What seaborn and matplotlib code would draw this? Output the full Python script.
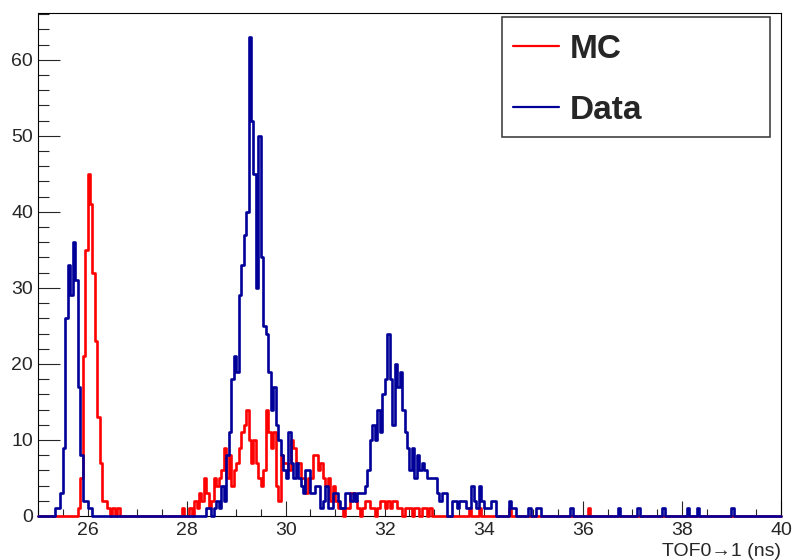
import matplotlib
matplotlib.use("Agg")
import matplotlib.pyplot as plt
from matplotlib.lines import Line2D
from matplotlib.patches import Rectangle
from matplotlib.ticker import MultipleLocator
import numpy as np
import pandas as pd
import seaborn as sns

# Histogram binning: 300 bins of 0.05 ns between 25 and 40 ns
bin_lo = 25.0
bin_hi = 40.0
n_bins = 300

# Counts per bin, one row of 20 bins per nanosecond
mc_counts = [
    0, 0, 0, 0, 0, 0, 0, 0, 0, 0, 0, 0, 0, 0, 0, 0, 1, 5, 21, 35,            # 25
    45, 41, 32, 23, 13, 7, 2, 2, 1, 0, 1, 0, 1, 0, 0, 0, 0, 0, 0, 0,         # 26
    0, 0, 0, 0, 0, 0, 0, 0, 0, 0, 0, 0, 0, 0, 0, 0, 0, 0, 1, 0,              # 27
    0, 1, 0, 2, 1, 3, 2, 5, 3, 1, 2, 5, 4, 5, 6, 9, 5, 8, 4, 6,              # 28
    7, 9, 11, 12, 14, 10, 7, 10, 7, 5, 4, 6, 14, 11, 9, 11, 4, 2, 8, 7,      # 29
    7, 6, 10, 9, 7, 7, 5, 5, 3, 5, 5, 8, 8, 6, 7, 5, 4, 5, 2, 4,             # 30
    2, 1, 1, 0, 1, 1, 3, 3, 2, 1, 0, 1, 2, 2, 1, 1, 0, 1, 2, 2,              # 31
    1, 2, 1, 2, 2, 1, 1, 0, 1, 1, 1, 0, 1, 1, 0, 1, 1, 0, 1, 0,              # 32
    0, 0, 0, 0, 0, 0, 0, 0, 0, 0, 0, 0, 0, 0, 1, 0, 0, 0, 1, 0,              # 33
    0, 0, 0, 0, 0, 0, 0, 0, 0, 0, 1, 0, 0, 0, 0, 0, 0, 0, 0, 0,              # 34
    0, 0, 0, 0, 0, 0, 0, 0, 0, 0, 0, 0, 0, 0, 0, 0, 0, 0, 0, 0,              # 35
    0, 0, 1, 0, 0, 0, 0, 0, 0, 0, 0, 0, 0, 0, 0, 0, 0, 0, 0, 0,              # 36
    0, 0, 0, 0, 0, 0, 0, 0, 0, 0, 0, 0, 0, 0, 0, 0, 0, 0, 0, 0,              # 37
    0, 0, 0, 0, 0, 0, 0, 0, 0, 0, 0, 0, 0, 0, 0, 0, 0, 0, 0, 0,              # 38
    0, 0, 0, 0, 0, 0, 0, 0, 0, 0, 0, 0, 0, 0, 0, 0, 0, 0, 0, 0,              # 39
]

data_counts = [
    0, 0, 0, 0, 0, 0, 0, 1, 1, 3, 9, 26, 33, 29, 36, 31, 17, 8, 2, 2,        # 25
    1, 1, 0, 0, 0, 0, 0, 0, 0, 0, 0, 0, 0, 0, 0, 0, 0, 0, 0, 0,              # 26
    0, 0, 0, 0, 0, 0, 0, 0, 0, 0, 0, 0, 0, 0, 0, 0, 0, 0, 0, 0,              # 27
    0, 0, 0, 0, 0, 0, 0, 0, 1, 1, 0, 1, 2, 1, 4, 2, 8, 11, 18, 21,           # 28
    19, 29, 33, 37, 40, 63, 52, 45, 30, 50, 34, 25, 24, 19, 14, 17, 12, 10, 8, 6,  # 29
    5, 11, 7, 5, 7, 5, 4, 3, 6, 6, 3, 3, 4, 4, 1, 2, 4, 1, 1, 3,             # 30
    3, 2, 1, 1, 3, 3, 2, 3, 2, 3, 3, 3, 4, 6, 10, 12, 10, 14, 11, 16,        # 31
    18, 24, 18, 12, 20, 17, 19, 14, 11, 9, 6, 9, 5, 8, 6, 7, 6, 5, 5, 5,     # 32
    5, 3, 2, 3, 3, 0, 0, 2, 2, 1, 2, 2, 2, 1, 1, 4, 2, 1, 4, 2,              # 33
    1, 1, 1, 2, 2, 0, 0, 0, 0, 0, 2, 1, 1, 0, 0, 0, 0, 0, 1, 0,              # 34
    0, 1, 1, 0, 0, 0, 0, 0, 0, 0, 0, 0, 0, 0, 0, 1, 0, 0, 0, 0,              # 35
    0, 0, 0, 0, 0, 0, 0, 0, 0, 0, 0, 0, 0, 0, 1, 0, 0, 0, 0, 0,              # 36
    0, 0, 1, 0, 0, 0, 0, 0, 0, 0, 0, 0, 1, 0, 0, 0, 0, 0, 0, 0,              # 37
    0, 0, 1, 0, 0, 0, 1, 0, 0, 0, 0, 0, 0, 0, 0, 0, 0, 0, 0, 0,              # 38
    1, 0, 0, 0, 0, 0, 0, 0, 0, 0, 0, 0, 0, 0, 0, 0, 0, 0, 0, 0,              # 39
]

series_names = ["MC", "Data"]
series_colors = ["#ff0000", "#000099"]
x_title = "TOF0\u21921 (ns)"

# Bin centres, one weighted entry per bin
bin_width = (bin_hi - bin_lo) / n_bins
centers = bin_lo + bin_width * (np.arange(n_bins) + 0.5)

sns.set_style("white")
plt.rcParams["font.family"] = ["Liberation Sans", "DejaVu Sans"]

fig = plt.figure(figsize=(7.93, 5.6), dpi=100)
ax = fig.add_axes([38 / 793, 44 / 560, 743 / 793, 503 / 560])

# MC first, data drawn on top
for counts, color in zip([mc_counts, data_counts], series_colors):
    df = pd.DataFrame({"tof": centers, "n": counts})
    sns.histplot(data=df, x="tof", weights="n", binwidth=bin_width,
                 binrange=(bin_lo, bin_hi), element="step", fill=False,
                 color=color, linewidth=1.9, ax=ax)

for line in ax.lines:
    line.set_clip_on(False)
    line.set_zorder(3)

ax.set_xlim(bin_lo, bin_hi)
ax.set_ylim(0, 1.05 * max(data_counts))

ax.xaxis.set_major_locator(MultipleLocator(2))
ax.xaxis.set_minor_locator(MultipleLocator(0.5))
ax.yaxis.set_major_locator(MultipleLocator(10))
ax.yaxis.set_minor_locator(MultipleLocator(2))

ax.tick_params(axis="y", which="major", direction="in", length=15.8, width=0.8,
               labelsize=14, pad=3.6, left=True, right=False)
ax.tick_params(axis="y", which="minor", direction="in", length=7.9, width=0.8,
               left=True, right=False)
ax.tick_params(axis="x", which="major", direction="in", length=10.8, width=0.8,
               labelsize=14, pad=4, bottom=True, top=False)
ax.tick_params(axis="x", which="minor", direction="in", length=5.4, width=0.8,
               bottom=True, top=False)

for side in ["left", "right", "top", "bottom"]:
    ax.spines[side].set_color("black")
    ax.spines[side].set_linewidth(0.8)

ax.set_ylabel("")
ax.set_xlabel(x_title, loc="right", fontsize=14, labelpad=3)

# ROOT style legend box
box_x0 = (502 - 38) / 743
box_x1 = (770 - 38) / 743
box_y0 = (516 - 137) / 503
box_y1 = (516 - 17) / 503
ax.add_patch(Rectangle((box_x0, box_y0), box_x1 - box_x0, box_y1 - box_y0,
                       transform=ax.transAxes, facecolor="white",
                       edgecolor="#333333", linewidth=1.1, zorder=4))
handles = [Line2D([], [], color=c, linewidth=1.6) for c in series_colors]
leg = ax.legend(handles, series_names, loc="upper left",
                bbox_to_anchor=(box_x0 - 6 / 743, box_y1), frameon=False,
                prop={"weight": "bold", "size": 24},
                handlelength=1.4, handletextpad=0.3, labelspacing=0.9,
                borderpad=0.5, borderaxespad=0)
leg.set_zorder(5)

fig.savefig("out.png", dpi=100)
